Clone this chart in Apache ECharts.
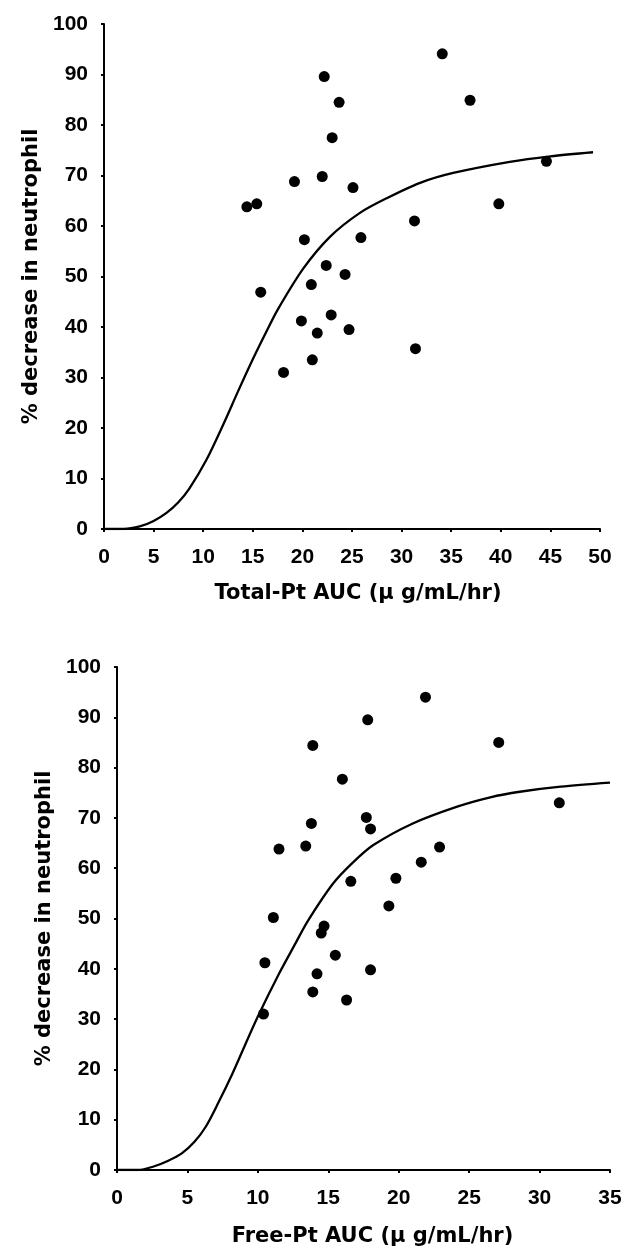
<!DOCTYPE html>
<html>
<head>
<meta charset="utf-8">
<script src="https://cdn.jsdelivr.net/npm/echarts@6/dist/echarts.min.js"></script>
<style>
html,body{margin:0;padding:0;background:#fff;}
#chart{width:626px;height:1249px;}
</style>
</head>
<body>
<div id="chart"></div>
<script>
// Top panel: Total-Pt AUC
const totalX = [14.4, 15.4, 15.8, 19.2, 22.2, 23.7, 23.0, 22.0, 25.1, 20.2, 25.9, 22.4, 24.3, 20.9, 31.3, 34.1, 36.9, 39.8, 44.6, 19.9, 21.5, 22.9, 24.7, 18.1, 21.0, 31.4];
const totalY = [63.8, 64.4, 46.9, 68.8, 89.6, 84.5, 77.5, 69.8, 67.6, 57.3, 57.7, 52.2, 50.4, 48.4, 61.0, 94.1, 84.9, 64.4, 72.8, 41.2, 38.8, 42.4, 39.5, 31.0, 33.5, 35.7];
const totalCurveX = [0, 2, 3.6, 5, 6.3, 7.5, 8.6, 10.3, 12, 13.5, 15, 16.3, 17.5, 20.1, 22.8, 25.8, 28.5, 31.8, 35.2, 40.9, 45, 49.3];
const totalCurveY = [0, 0, 0.5, 1.6, 3.2, 5.3, 8.0, 13.6, 20.6, 27.2, 33.6, 38.8, 43.4, 51.6, 57.9, 62.6, 65.5, 68.5, 70.5, 72.7, 73.8, 74.6];

// Bottom panel: Free-Pt AUC
const freeX = [11.5, 13.4, 13.8, 13.9, 16.0, 17.8, 17.7, 18.0, 21.9, 27.1, 31.4, 22.9, 21.6, 19.8, 16.6, 19.3, 11.1, 14.7, 14.5, 10.5, 10.4, 15.5, 14.2, 13.9, 18.0, 16.3];
const freeY = [63.8, 64.4, 68.9, 84.4, 77.7, 89.5, 70.1, 67.8, 94.0, 85.0, 73.0, 64.2, 61.2, 58.0, 57.4, 52.5, 50.2, 48.5, 47.1, 41.2, 31.0, 42.7, 39.0, 35.4, 39.8, 33.8];
const freeCurveX = [0, 1.5, 2.6, 3.6, 4.6, 5.5, 6.3, 7.2, 8.2, 9.1, 10, 11.5, 12.7, 13.5, 15.3, 16.7, 18.2, 21, 24.1, 26.5, 28.6, 31.5, 35];
const freeCurveY = [0, 0, 0.7, 1.8, 3.3, 5.6, 8.6, 13.4, 19.2, 24.9, 30.5, 39.0, 45.2, 49.3, 56.8, 61.0, 64.6, 68.9, 72.2, 74.1, 75.2, 76.2, 77.0];

const yTitle = '% decrease in neutrophil';
const xTitleTop = 'Total-Pt AUC (\u03bc g/mL/hr)';
const xTitleBottom = 'Free-Pt AUC (\u03bc g/mL/hr)';

function pairs(xs, ys) { return xs.map((x, i) => [x, ys[i]]); }

const TICK_FONT = '"Liberation Sans Narrow", "Liberation Sans", Arial, sans-serif';
const NAME_FONT = '"DejaVu Sans", sans-serif';
const labelStyle = { color: '#000', fontFamily: TICK_FONT, fontWeight: 'bold', fontSize: 21 };
const nameStyle = { color: '#000', fontFamily: NAME_FONT, fontWeight: 'bold', fontSize: 21 };
const axisLine = { show: true, lineStyle: { color: '#000', width: 2 } };
const axisTick = { show: true, length: 3, lineStyle: { color: '#000', width: 2 } };

function xAxis(grid, max, title, gap, shift) {
  return {
    type: 'value', gridIndex: grid, min: 0, max: max, interval: 5,
    name: title, nameLocation: 'middle', nameGap: gap,
    nameTextStyle: Object.assign({ padding: [0, 0, 0, shift] }, nameStyle),
    axisLine: axisLine, axisTick: axisTick, splitLine: { show: false },
    axisLabel: Object.assign({ margin: 18 }, labelStyle)
  };
}
function yAxis(grid, gap) {
  return {
    type: 'value', gridIndex: grid, min: 0, max: 100, interval: 10,
    name: yTitle, nameLocation: 'middle', nameGap: gap, nameTextStyle: nameStyle,
    axisLine: axisLine, axisTick: axisTick, splitLine: { show: false },
    axisLabel: Object.assign({ margin: 16 }, labelStyle)
  };
}

const chart = echarts.init(document.getElementById('chart'), null, { renderer: 'canvas' });
chart.setOption({
  backgroundColor: '#fff',
  animation: false,
  grid: [
    { left: 104, top: 24, width: 496, height: 505 },
    { left: 117, top: 667, width: 493, height: 503 }
  ],
  xAxis: [xAxis(0, 50, xTitleTop, 54, 12), xAxis(1, 35, xTitleBottom, 56, 18)],
  yAxis: [yAxis(0, 57), yAxis(1, 57)],
  series: [
    { type: 'line', xAxisIndex: 0, yAxisIndex: 0, data: pairs(totalCurveX, totalCurveY), smooth: 0.3, showSymbol: false, lineStyle: { color: '#000', width: 2.3 }, z: 2 },
    { type: 'scatter', xAxisIndex: 0, yAxisIndex: 0, data: pairs(totalX, totalY), symbolSize: 11, itemStyle: { color: '#000', opacity: 1 }, z: 3 },
    { type: 'line', xAxisIndex: 1, yAxisIndex: 1, data: pairs(freeCurveX, freeCurveY), smooth: 0.3, showSymbol: false, lineStyle: { color: '#000', width: 2.3 }, z: 2 },
    { type: 'scatter', xAxisIndex: 1, yAxisIndex: 1, data: pairs(freeX, freeY), symbolSize: 11, itemStyle: { color: '#000', opacity: 1 }, z: 3 }
  ]
});
</script>
</body>
</html>
